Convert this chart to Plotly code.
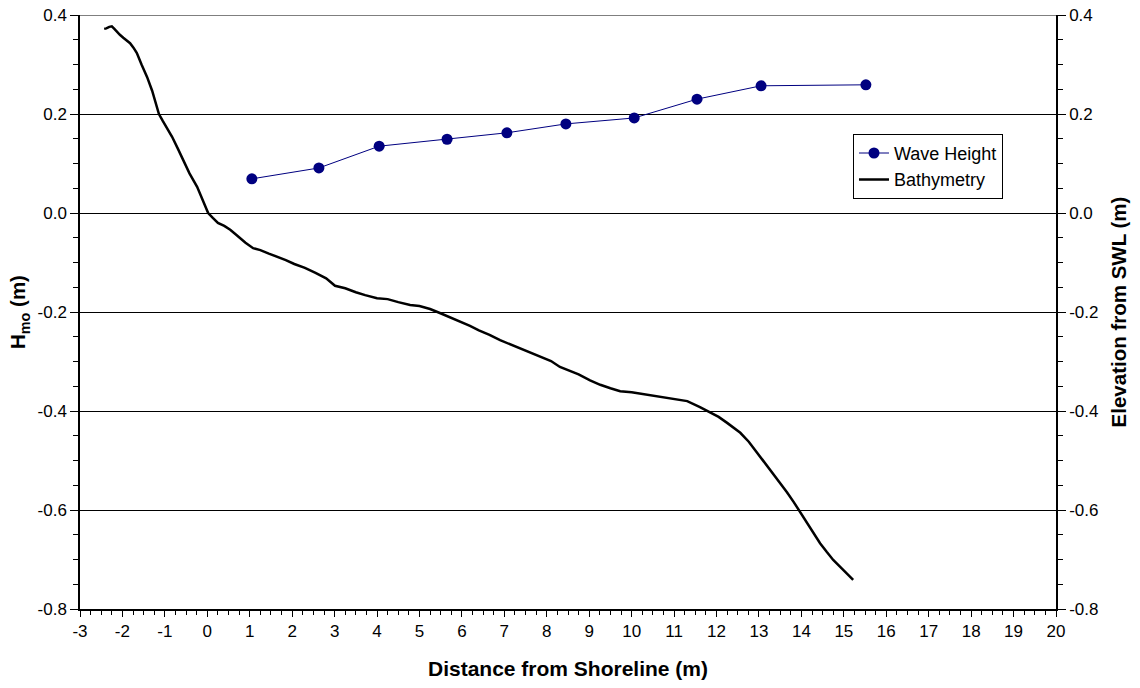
import plotly.graph_objects as go

# Wave height data
wave_x = [1.05, 2.63, 4.05, 5.65, 7.06, 8.45, 10.06, 11.54, 13.05, 15.52]
wave_h = [0.069, 0.091, 0.135, 0.149, 0.162, 0.180, 0.192, 0.230, 0.257, 0.259]

# Bathymetry profile
bathy_x = [-2.43, -2.38, -2.31, -2.25, -2.19, -2.13, -2.06, -1.98, -1.90, -1.82, -1.74, -1.66,
           -1.55, -1.42, -1.30, -1.20, -1.14, -1.05, -0.95, -0.83, -0.70, -0.57, -0.42,
           -0.24, -0.10, 0.02, 0.13, 0.25, 0.40, 0.54, 0.68, 0.77, 0.90, 1.08, 1.25,
           1.45, 1.65, 1.85, 2.05, 2.30, 2.55, 2.80, 3.01, 3.25, 3.50, 3.72, 4.00,
           4.25, 4.50, 4.78, 5.00, 5.25, 5.48, 5.70, 5.95, 6.19, 6.40, 6.65, 6.90,
           7.10, 7.35, 7.61, 7.85, 8.10, 8.31, 8.50, 8.75, 9.02, 9.26, 9.50, 9.73,
           10.00, 10.27, 10.55, 10.83, 11.05, 11.31, 11.61, 11.85, 12.05, 12.25,
           12.56, 12.76, 12.96, 13.15, 13.33, 13.50, 13.66, 13.82, 13.97, 14.10,
           14.20, 14.32, 14.44, 14.60, 14.75, 14.95, 15.10, 15.22]
bathy_z = [0.372, 0.373, 0.376, 0.377, 0.372, 0.366, 0.360, 0.354, 0.349, 0.343, 0.334, 0.323,
           0.300, 0.275, 0.247, 0.220, 0.200, 0.186, 0.172, 0.154, 0.131, 0.107, 0.080,
           0.053, 0.026, 0.000, -0.010, -0.020, -0.026, -0.034, -0.044, -0.051, -0.060,
           -0.071, -0.075, -0.082, -0.088, -0.095, -0.103, -0.111, -0.121, -0.132,
           -0.147, -0.152, -0.160, -0.166, -0.172, -0.174, -0.180, -0.186, -0.188,
           -0.194, -0.202, -0.210, -0.218, -0.228, -0.237, -0.246, -0.257, -0.264,
           -0.272, -0.281, -0.290, -0.299, -0.311, -0.317, -0.326, -0.338, -0.347,
           -0.354, -0.360, -0.362, -0.366, -0.369, -0.374, -0.377, -0.380, -0.392,
           -0.402, -0.412, -0.424, -0.444, -0.462, -0.485, -0.505, -0.525, -0.545,
           -0.564, -0.584, -0.604, -0.620, -0.634, -0.652, -0.667, -0.685, -0.701,
           -0.718, -0.731, -0.741]

# Tick labels
x_tickvals = list(range(-3, 21))
x_ticktext = [str(v) for v in x_tickvals]
y_tickvals = [-0.8, -0.6, -0.4, -0.2, 0.0, 0.2, 0.4]
y_ticktext = ["-0.8", "-0.6", "-0.4", "-0.2", "0.0", "0.2", "0.4"]

x_range = [-3, 20]
y_range = [-0.8, 0.4]
font_family = "Liberation Sans, Arial, sans-serif"

fig = go.Figure()

fig.add_trace(go.Scatter(
    x=wave_x, y=wave_h, mode="lines+markers", name="Wave Height",
    line=dict(color="#000080", width=1),
    marker=dict(color="#000080", size=11, symbol="circle"),
    yaxis="y",
))
fig.add_trace(go.Scatter(
    x=bathy_x, y=bathy_z, mode="lines", name="Bathymetry",
    line=dict(color="black", width=2.5),
    yaxis="y2",
))

axis_font = dict(family=font_family, size=17, color="black")
xtitle_font = dict(family=font_family, size=21, color="black")
ytitle_font = dict(family=font_family, size=20.5, color="black")

fig.update_layout(
    width=1140, height=688,
    margin=dict(l=80, r=84, t=15, b=79),
    paper_bgcolor="white", plot_bgcolor="white",
    font=dict(family=font_family, color="black"),
    xaxis=dict(
        range=x_range, tickvals=x_tickvals, ticktext=x_ticktext,
        automargin=False,
        showline=True, linecolor="black", linewidth=2,
        ticks="outside", ticklen=6, tickwidth=1, tickcolor="black",
        minor=dict(ticks="outside", dtick=0.25, ticklen=4, tickcolor="black", showgrid=False),
        showgrid=False, zeroline=False,
        tickfont=axis_font,
        title=dict(text="<b>Distance from Shoreline (m)</b>", font=xtitle_font, standoff=21),
    ),
    yaxis=dict(
        range=y_range, tickvals=y_tickvals, ticktext=y_ticktext,
        automargin=False,
        showline=True, linecolor="black", linewidth=1.5,
        ticks="outside", ticklen=8, tickwidth=1, tickcolor="black",
        minor=dict(ticks="outside", dtick=0.05, ticklen=5, tickcolor="black", showgrid=False),
        showgrid=True, gridcolor="black", gridwidth=1,
        zeroline=False,
        tickfont=axis_font,
        title=dict(text="<b>H<sub>mo</sub> (m)</b>", font=ytitle_font, standoff=6),
    ),
    yaxis2=dict(
        range=y_range, tickvals=y_tickvals, ticktext=y_ticktext,
        automargin=False,
        overlaying="y", side="right",
        showline=True, linecolor="black", linewidth=1.5,
        ticks="outside", ticklen=8, tickwidth=1, tickcolor="black",
        minor=dict(ticks="outside", dtick=0.05, ticklen=5, tickcolor="black", showgrid=False),
        showgrid=False, zeroline=False,
        tickfont=axis_font,
        title=dict(text="<b>Elevation from SWL (m)</b>", font=ytitle_font, standoff=14),
    ),
    legend=dict(
        x=0.792, y=0.800, xanchor="left", yanchor="top",
        bgcolor="white", bordercolor="black", borderwidth=1,
        font=dict(family=font_family, size=18, color="black"),
        tracegroupgap=0,
    ),
    showlegend=True,
)

fig.add_shape(type="line", xref="paper", yref="y", x0=0, x1=1, y0=0.4, y1=0.4,
              line=dict(color="black", width=1))

fig.write_html("out.html")
